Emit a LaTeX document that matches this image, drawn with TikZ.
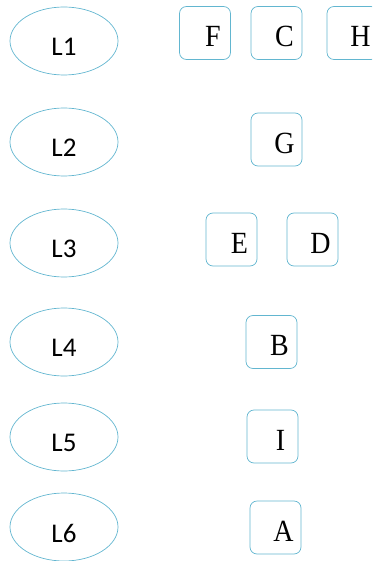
\documentclass[tikz,border=0pt]{standalone}
\usepackage{fontspec}
\setmainfont{Liberation Serif}
\newfontfamily\levelfont{Carlito}
\usetikzlibrary{shapes.geometric, positioning}
\definecolor{edgeblue}{HTML}{62B6D0}

\begin{document}
\begin{tikzpicture}[
    x=1pt, y=-1pt,
    level/.style={draw=edgeblue, line width=0.7pt, ellipse, minimum width=108pt, minimum height=68pt,
      inner sep=0pt, label={[font=\levelfont\fontsize{27}{29}\selectfont, yshift=-6pt]center:L#1}},
    item/.style={draw=edgeblue, line width=0.7pt, rounded corners=7pt, minimum width=51pt, minimum height=53pt,
      inner sep=0pt, label={[font=\fontsize{28}{30}\selectfont, yscale=1.1, xshift=8pt, yshift=-3.5pt]center:#1}},
]
\clip (0, 0) rectangle (372, 561);

% Levels
\foreach \n/\y in {1/41, 2/142, 3/243, 4/342, 5/437, 6/527} {
    \node[level=\n] (L\n) at (64, \y) {};
}

% Level 1
\node[item=F] (F) at (205, 33) {};
\node[item=C] (C) at (276.5, 33) {};
\node[item=H] (H) at (352.5, 33) {};

% Level 2
\node[item=G] (G) at (276.5, 139.5) {};

% Level 3
\node[item=E] (E) at (231.5, 239.5) {};
\node[item=D] (D) at (312.5, 239.5) {};

% Levels 4 to 6
\node[item=B] (B) at (271.5, 342) {};
\node[item=I] (I) at (272.5, 436.5) {};
\node[item=A] (A) at (275.5, 527.5) {};

\end{tikzpicture}
\end{document}
